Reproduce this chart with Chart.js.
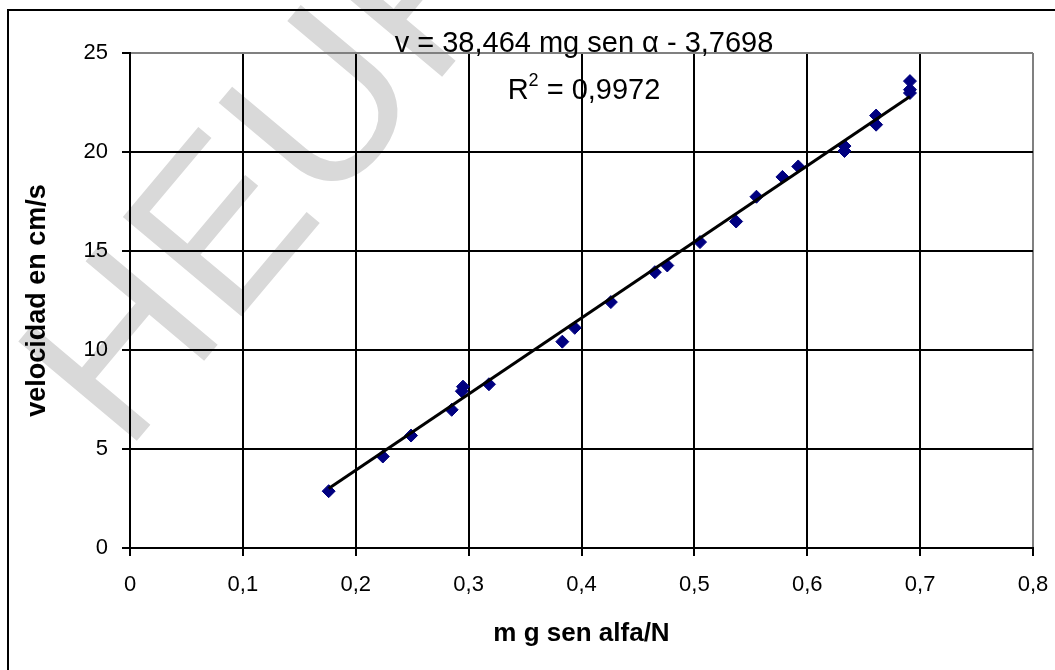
<!DOCTYPE html>
<html lang="es">
<head>
<meta charset="UTF-8">
<title>velocidad en cm/s vs m g sen alfa/N</title>
<script src="https://cdn.jsdelivr.net/npm/chart.js"></script>
<style>
    html, body {
        margin: 0;
        padding: 0;
        background: #fff;
    }
    canvas {
        display: block;
    }
</style>
</head>
<body>
<canvas id="grafico" width="1055" height="670"></canvas>
<script>
    const fuerza = [0.176, 0.224, 0.249, 0.285, 0.294, 0.295, 0.318, 0.383, 0.394, 0.426,
                    0.465, 0.476, 0.505, 0.537, 0.555, 0.578, 0.592, 0.633, 0.633, 0.661,
                    0.661, 0.691, 0.691, 0.691];
    const velocidad = [2.87, 4.62, 5.68, 6.98, 7.92, 8.15, 8.27, 10.42, 11.12, 12.42,
                       13.93, 14.27, 15.45, 16.49, 17.74, 18.74, 19.27, 20.05, 20.3, 21.38,
                       21.84, 22.98, 23.15, 23.58];

    // recta de ajuste
    const pendiente = 38.464;
    const ordenada = -3.7698;
    const ajusteX = [0.176, 0.691];
    const textoEcuacion = 'v = 38,464 mg sen \u03b1 - 3,7698';
    const textoR2 = '0,9972';

    // ejes
    const ejeX = { min: 0, max: 0.8, paso: 0.1 };
    const ejeY = { min: 0, max: 25, paso: 5 };
    const tituloX = 'm g sen alfa/N';
    const tituloY = 'velocidad en cm/s';
    const marcaAgua = 'HEURISTICA';

    const FUENTE = '"Liberation Sans", Arial, sans-serif';
    const coma = v => String(Math.round(v * 10) / 10).replace('.', ',');

    const puntos = fuerza.map((x, i) => ({ x: x, y: velocidad[i] }));
    const recta = ajusteX.map(x => ({ x: x, y: pendiente * x + ordenada }));

    const fondo = {
        id: 'fondo',
        beforeDraw(chart) {
            const c = chart.ctx;
            c.save();
            c.fillStyle = '#fff';
            c.fillRect(0, 0, chart.width, chart.height);
            // marca de agua
            c.translate(125, 455);
            c.rotate(-50 * Math.PI / 180);
            c.fillStyle = '#d9d9d9';
            c.font = '225px ' + FUENTE;
            c.fillText(marcaAgua, 0, 0);
            c.restore();
            // marco exterior
            c.save();
            c.strokeStyle = '#000';
            c.lineWidth = 2;
            c.beginPath();
            c.moveTo(8, chart.height);
            c.lineTo(8, 10);
            c.lineTo(chart.width, 10);
            c.stroke();
            c.restore();
        }
    };

    const etiquetaAjuste = {
        id: 'etiquetaAjuste',
        afterDraw(chart) {
            const c = chart.ctx;
            const cx = 584;
            c.save();
            c.fillStyle = '#000';
            c.textBaseline = 'alphabetic';
            c.font = '29px ' + FUENTE;
            c.textAlign = 'center';
            c.fillText(textoEcuacion, cx, 52);

            // R² = ...
            c.textAlign = 'left';
            const resto = ' = ' + textoR2;
            const wR = c.measureText('R').width;
            const wResto = c.measureText(resto).width;
            c.font = '18px ' + FUENTE;
            const w2 = c.measureText('2').width;
            let x = cx - (wR + w2 + wResto) / 2;
            c.font = '29px ' + FUENTE;
            c.fillText('R', x, 99);
            c.font = '18px ' + FUENTE;
            c.fillText('2', x + wR, 86);
            c.font = '29px ' + FUENTE;
            c.fillText(resto, x + wR + w2, 99);
            c.restore();
        }
    };

    new Chart(document.getElementById('grafico'), {
        type: 'scatter',
        data: {
            datasets: [
                {
                    label: 'ajuste',
                    data: recta,
                    showLine: true,
                    borderColor: '#000',
                    borderWidth: 3,
                    pointRadius: 0,
                    order: 0
                },
                {
                    label: 'velocidad',
                    data: puntos,
                    pointStyle: 'rectRot',
                    pointRadius: 6.5,
                    backgroundColor: '#000080',
                    borderColor: '#000080',
                    borderWidth: 1,
                    order: 1
                }
            ]
        },
        options: {
            responsive: false,
            animation: false,
            layout: { padding: { top: 53, right: 22, left: 0, bottom: 0 } },
            plugins: {
                legend: { display: false },
                tooltip: { enabled: false }
            },
            scales: {
                x: {
                    type: 'linear',
                    min: ejeX.min,
                    max: ejeX.max,
                    afterFit(s) {
                        s.height = 122;
                        s.paddingRight = 0;
                    },
                    ticks: {
                        stepSize: ejeX.paso,
                        color: '#000',
                        padding: 16,
                        font: { family: FUENTE, size: 22 },
                        callback: v => coma(v)
                    },
                    grid: {
                        color: ctx => (ctx.tick && ctx.tick.value > ejeX.max - 1e-6) ? '#808080' : '#000',
                        lineWidth: 2,
                        tickLength: 8,
                        tickColor: '#000'
                    },
                    border: { color: '#000', width: 2 },
                    title: {
                        display: true,
                        text: tituloX,
                        color: '#000',
                        font: { family: FUENTE, size: 26, weight: 'bold' },
                        padding: { top: 0, bottom: 21 }
                    }
                },
                y: {
                    min: ejeY.min,
                    max: ejeY.max,
                    afterFit(s) { s.width = 130; },
                    ticks: {
                        stepSize: ejeY.paso,
                        color: '#000',
                        padding: 14,
                        font: { family: FUENTE, size: 22 }
                    },
                    grid: {
                        color: ctx => (ctx.tick && ctx.tick.value >= ejeY.max) ? '#808080' : '#000',
                        lineWidth: 2,
                        tickLength: 8,
                        tickColor: '#000'
                    },
                    border: { color: '#000', width: 2 },
                    title: {
                        display: true,
                        text: tituloY,
                        color: '#000',
                        font: { family: FUENTE, size: 27, weight: 'bold' },
                        padding: { top: 21, bottom: 0 }
                    }
                }
            }
        },
        plugins: [fondo, etiquetaAjuste]
    });
</script>
</body>
</html>
